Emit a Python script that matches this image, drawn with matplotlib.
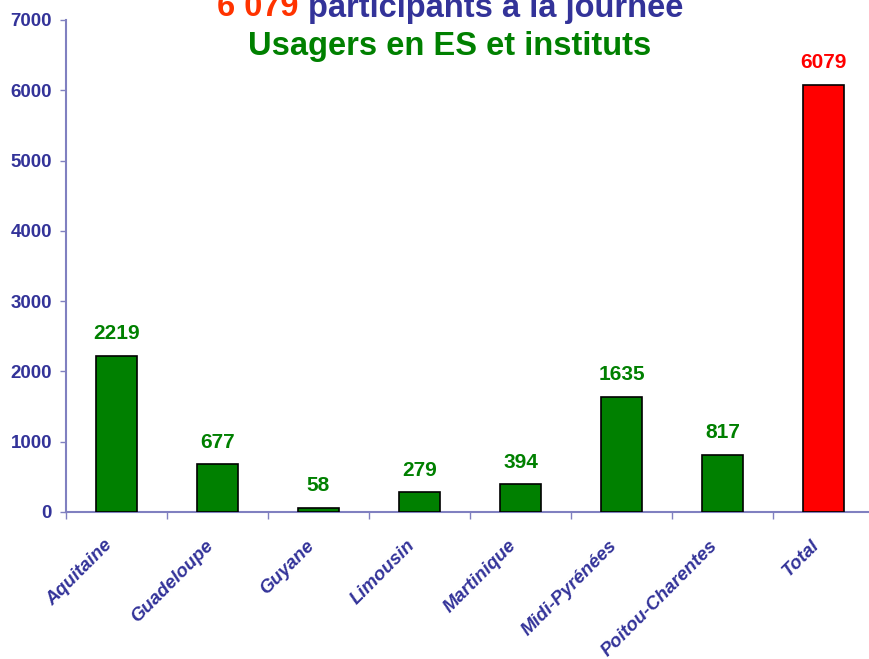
import matplotlib.pyplot as plt

regions = ['Aquitaine', 'Guadeloupe', 'Guyane', 'Limousin', 'Martinique',
           'Midi-Pyrénées', 'Poitou-Charentes', 'Total']
participants = [2219, 677, 58, 279, 394, 1635, 817, 6079]
bar_colors = ['#008000'] * 7 + ['#ff0000']
label_colors = ['#008000'] * 7 + ['#ff0000']

navy = '#333399'
plt.rcParams['font.family'] = 'Liberation Sans'

fig = plt.figure(figsize=(8.69, 6.59), dpi=100)
ax = fig.add_axes([66 / 869, 147 / 659, (874 - 66) / 869, 492 / 659])

x = range(len(regions))
ax.bar(x, participants, width=0.41, color=bar_colors, edgecolor='black', linewidth=1.2, zorder=3)
for i, v in enumerate(participants):
    ax.text(i, v + 180, str(v), ha='center', va='bottom', fontsize=15,
            fontweight='bold', color=label_colors[i])

ax.set_xlim(-0.5, 7.5)
ax.set_ylim(0, 7000)
ax.set_yticks(range(0, 7001, 1000))
ax.tick_params(axis='y', colors='#8080c0', labelcolor=navy, labelsize=13.5,
               direction='out', length=4, width=1, pad=6)
for t in ax.get_yticklabels():
    t.set_fontweight('bold')

ax.set_xticks([i - 0.5 for i in range(len(regions))], minor=True)
ax.set_xticks([i - 0.13 for i in x])
ax.set_xticklabels(regions, rotation=45, ha='right', rotation_mode='anchor',
                   fontsize=13.5, fontweight='bold', fontstyle='italic', color=navy)
ax.tick_params(axis='x', which='major', length=0, pad=18)
ax.tick_params(axis='x', which='minor', length=5, color='#8080c0', width=1)

for s in ['top', 'right']:
    ax.spines[s].set_visible(False)
ax.spines['left'].set_color('#8080c0')
ax.spines['bottom'].set_color('#8080c0')
ax.spines['left'].set_linewidth(1.5)
ax.spines['bottom'].set_linewidth(1.5)

# title, two colours on the first line
fig.canvas.draw()
r = fig.canvas.get_renderer()
t1 = fig.text(0, 0, '6 079 ', fontsize=23.5, fontweight='bold', color='#ff3300')
t2 = fig.text(0, 0, 'participants à la journée', fontsize=23.5, fontweight='bold', color=navy)
w1 = t1.get_window_extent(r).width / fig.bbox.width
w2 = t2.get_window_extent(r).width / fig.bbox.width
x0 = 450 / 869 - (w1 + w2) / 2
y1 = 1 - 8 / 659
t1.set_position((x0, y1))
t1.set_va('center')
t2.set_position((x0 + w1, y1))
t2.set_va('center')
fig.text(450 / 869, 1 - 47 / 659, 'Usagers en ES et instituts', ha='center', va='center',
         fontsize=23.5, fontweight='bold', color='#008000')

fig.savefig('out.png', dpi=100)
